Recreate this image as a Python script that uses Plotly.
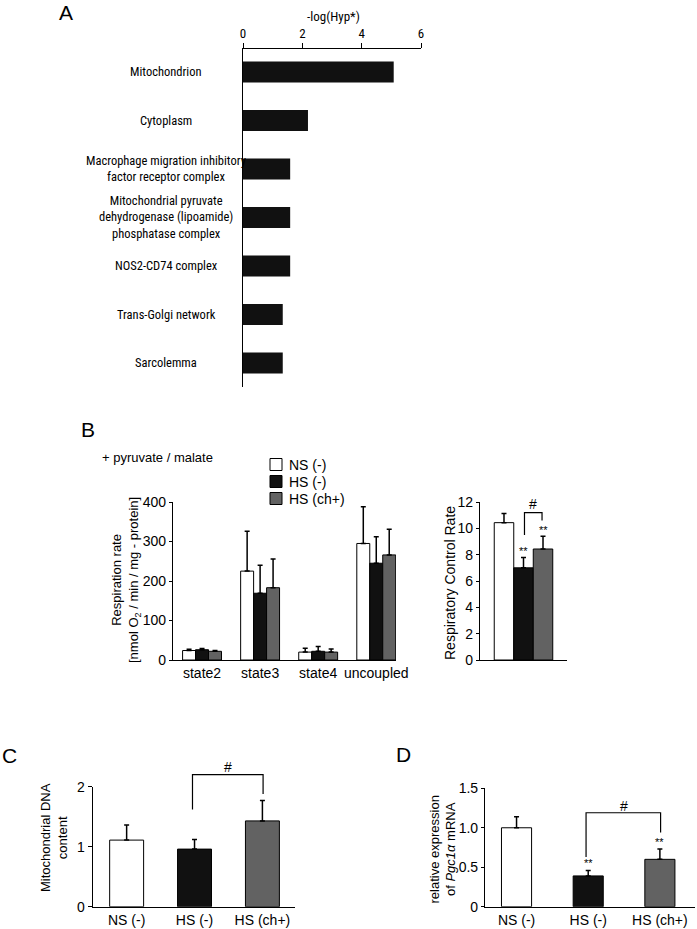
import plotly.graph_objects as go

W, H = 697, 929

# ---------------- data ----------------
go_terms = [
    "Mitochondrion",
    "Cytoplasm",
    "Macrophage migration inhibitory<br>factor receptor complex",
    "Mitochondrial pyruvate<br>dehydrogenase (lipoamide)<br>phosphatase complex",
    "NOS2-CD74 complex",
    "Trans-Golgi network",
    "Sarcolemma",
]
neg_log_hyp = [5.08, 2.19, 1.59, 1.59, 1.59, 1.34, 1.34]

groups = ["NS (-)", "HS (-)", "HS (ch+)"]
group_colors = ["#ffffff", "#111111", "#626262"]

resp_states = ["state2", "state3", "state4", "uncoupled"]
resp_ns = [24, 225, 20, 295]
resp_ns_err = [3, 101, 10, 93]
resp_hs = [26, 169, 22, 245]
resp_hs_err = [3, 71, 12, 67]
resp_hsch = [22, 183, 20, 266]
resp_hsch_err = [2, 73, 8, 65]

rcr = [10.43, 7.0, 8.43]
rcr_err = [0.7, 0.78, 0.97]

mtdna = [1.11, 0.96, 1.43]
mtdna_err = [0.25, 0.16, 0.34]

pgc1a = [1.0, 0.39, 0.60]
pgc1a_err = [0.14, 0.07, 0.13]


def px(x):
    return x / W


def py(y):
    return 1 - y / H


NARROW = "Roboto Condensed, DejaVu Sans Condensed, Liberation Sans Narrow, Arial Narrow, Liberation Sans"
SANS = "Liberation Sans, Arial, sans-serif"

fig = go.Figure()

# ---------------- panel A ----------------
fig.add_trace(go.Bar(
    x=neg_log_hyp, y=go_terms, orientation="h", width=0.43,
    marker=dict(color="#111111", line=dict(width=0)),
    xaxis="x", yaxis="y", showlegend=False,
))


def err(vals):
    return dict(type="data", array=vals, arrayminus=[0] * len(vals), symmetric=False,
                color="black", thickness=1.5, width=2.5)


# ---------------- panel B (respiration) ----------------
for name, vals, e, col in zip(groups, [resp_ns, resp_hs, resp_hsch],
                              [resp_ns_err, resp_hs_err, resp_hsch_err], group_colors):
    fig.add_trace(go.Bar(
        x=resp_states, y=vals, name=name, error_y=err(e),
        marker=dict(color=col, line=dict(color="black", width=1)),
        xaxis="x2", yaxis="y2", showlegend=False,
    ))

# ---------------- panel B (RCR) ----------------
fig.add_trace(go.Bar(
    x=groups, y=rcr, width=1, error_y=err(rcr_err),
    marker=dict(color=group_colors, line=dict(color="black", width=1)),
    xaxis="x3", yaxis="y3", showlegend=False,
))

# ---------------- panel C ----------------
fig.add_trace(go.Bar(
    x=groups, y=mtdna, width=0.5, error_y=err(mtdna_err),
    marker=dict(color=group_colors, line=dict(color="black", width=1)),
    xaxis="x4", yaxis="y4", showlegend=False,
))

# ---------------- panel D ----------------
fig.add_trace(go.Bar(
    x=groups, y=pgc1a, width=0.42, error_y=err(pgc1a_err),
    marker=dict(color=group_colors, line=dict(color="black", width=1)),
    xaxis="x5", yaxis="y5", showlegend=False,
))

axis_common = dict(showline=True, linecolor="black", linewidth=1.2, showgrid=False,
                   zeroline=False, ticks="outside", tickcolor="black", ticklen=3,
                   automargin=False, tickfont=dict(size=14, color="black"))

c_dom = [py(906.7), py(786.7)]
c_range = [0, 2]

fig.update_layout(
    width=W, height=H,
    margin=dict(l=0, r=0, t=0, b=0, autoexpand=False),
    paper_bgcolor="white", plot_bgcolor="white",
    font=dict(family=SANS, color="black", size=13),
    barmode="group", bargap=0.33, bargroupgap=0,
    xaxis=dict(axis_common, domain=[px(243), px(421)], range=[0, 6], side="top",
               tickvals=[0, 2, 4, 6], ticklen=5, anchor="y",
               tickfont=dict(size=13, family=NARROW, color="black")),
    yaxis=dict(axis_common, domain=[py(387), py(49)], range=[6.495, -0.474],
               categoryorder="array", categoryarray=go_terms,
               showticklabels=False, ticks="", anchor="x"),
    xaxis2=dict(axis_common, domain=[px(173), px(396)], range=[-0.5, 3.34],
                ticks="", anchor="y2"),
    yaxis2=dict(axis_common, domain=[py(660), py(502)], range=[0, 400],
                tickvals=[0, 100, 200, 300, 400], anchor="x2"),
    xaxis3=dict(axis_common, domain=[px(480), px(567)], range=[-1.23, 3.23],
                ticks="", showticklabels=False, anchor="y3"),
    yaxis3=dict(axis_common, domain=[py(660), py(502)], range=[0, 12],
                tickvals=[0, 2, 4, 6, 8, 10, 12], anchor="x3"),
    xaxis4=dict(axis_common, domain=[px(92.7), px(295)], range=[-0.5, 2.48],
                ticks="", anchor="y4"),
    yaxis4=dict(axis_common, domain=c_dom, range=c_range,
                tickvals=[0, 1, 2], ticklen=4, anchor="x4"),
    xaxis5=dict(axis_common, domain=[px(485), px(695)], range=[-0.44, 2.49],
                ticks="", anchor="y5"),
    yaxis5=dict(axis_common, domain=[py(906.7), py(788.3)], range=[0, 1.5],
                tickvals=[0, 0.5, 1.0, 1.5], ticktext=["0", "0.5", "1.0", "1.5"],
                anchor="x5"),
)

ann = []


def note(text, x, y, xref="paper", yref="paper", size=13, **kw):
    d = dict(text=text, x=x, y=y, xref=xref, yref=yref, showarrow=False,
             xanchor="center", yanchor="middle",
             font=dict(size=size, color="black", family=kw.pop("family", SANS)))
    d.update(kw)
    ann.append(d)


# panel letters
for letter, (lx, ly) in zip("ABCD", [(66, 13), (87.5, 429), (9, 755), (403.5, 754.5)]):
    note(letter, px(lx), py(ly), size=21)

# panel A labels
note("-log(Hyp*)", px(333), py(17), family=NARROW)
for term in go_terms:
    note(term, px(166), term, yref="y", size=12.5, align="center", family=NARROW)

# panel B texts
note("+ pyruvate / malate", px(100), py(457), xanchor="left")
note("Respiration rate<br>[nmol O<sub>2</sub> / min / mg - protein]",
     px(126), py(580), textangle=-90)
note("Respiratory Control Rate", px(450), py(583), size=14, textangle=-90)

# legend (manual)
shapes = []
for name, col, ly in zip(groups, group_colors, [464.5, 481.5, 498.5]):
    shapes.append(dict(type="rect", xref="paper", yref="paper",
                       x0=px(270), x1=px(282), y0=py(ly + 6), y1=py(ly - 6),
                       fillcolor=col, line=dict(color="black", width=1)))
    note(name, px(287), py(ly), size=14, xanchor="left")

# RCR significance
note("**", "HS (-)", 8.3, xref="x3", yref="y3", size=11)
note("**", "HS (ch+)", 9.87, xref="x3", yref="y3", size=11)
note("#", 1.5, 11.85, xref="x3", yref="y3", size=14)
shapes.append(dict(type="path", xref="x3", yref="y3",
                   path="M 1.05 9.5 L 1.05 11.2 L 1.95 11.2 L 1.95 10.6",
                   line=dict(color="black", width=1.2)))

# panel C
note("Mitochondrial DNA<br>content", px(54), py(837), textangle=-90)


def c_to_paper(v):
    return c_dom[0] + (c_dom[1] - c_dom[0]) * (v - c_range[0]) / (c_range[1] - c_range[0])


shapes.append(dict(type="path", xref="x4", yref="paper",
                   path="M 0.97 {a} L 0.97 {b} L 2.01 {b} L 2.01 {c}".format(
                       a=c_to_paper(1.62), b=c_to_paper(2.2), c=c_to_paper(1.88)),
                   line=dict(color="black", width=1.2)))
note("#", 1.5, c_to_paper(2.33), xref="x4", size=14)

# panel D
note("relative expression<br>of <i>Pgc1α</i> mRNA", px(442.5), py(850), textangle=-90)
note("**", "HS (-)", 0.56, xref="x5", yref="y5", size=11)
note("**", "HS (ch+)", 0.82, xref="x5", yref="y5", size=11)
note("#", 1.5, 1.28, xref="x5", yref="y5", size=14)
shapes.append(dict(type="path", xref="x5", yref="y5",
                   path="M 0.97 0.63 L 0.97 1.19 L 2.01 1.19 L 2.01 0.94",
                   line=dict(color="black", width=1.2)))

fig.update_layout(annotations=ann, shapes=shapes)

# drop the default page margin so the figure sits at the window's corner
fig.write_html("out.html", config={"displayModeBar": False},
               post_script="document.body.style.margin = '0';")
